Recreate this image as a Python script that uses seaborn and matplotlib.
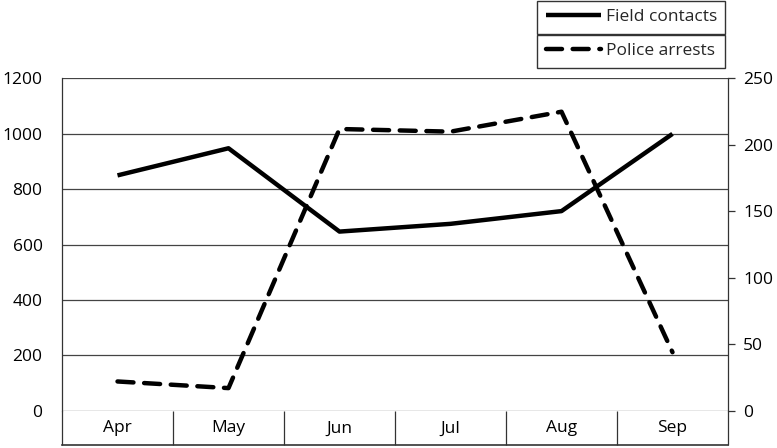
import matplotlib
matplotlib.use("Agg")
import matplotlib.pyplot as plt
import seaborn as sns
import pandas as pd

months = ["Apr", "May", "Jun", "Jul", "Aug", "Sep"]
field_contacts = [850, 948, 647, 675, 721, 1000]
police_arrests = [22, 17, 212, 210, 225, 44]

sns.set_theme(style="white")
plt.rcParams["font.family"] = ["Open Sans", "DejaVu Sans"]
plt.rcParams["font.size"] = 12.5

df = pd.DataFrame({"month": months, "contacts": field_contacts, "arrests": police_arrests})

fig = plt.figure(figsize=(7.77, 4.48), dpi=100)
ax = fig.add_axes([62 / 777, 37.3 / 448, 666 / 777, 332.2 / 448])
ax2 = ax.twinx()

sns.lineplot(data=df, x="month", y="contacts", ax=ax, color="black", lw=3.2,
             solid_capstyle="butt", sort=False, label="Field contacts", legend=False)
sns.lineplot(data=df, x="month", y="arrests", ax=ax2, color="black", lw=3.2,
             dashes=False, sort=False, label="Police arrests", legend=False)
ax2.lines[0].set_dashes((3.6, 2.4))
ax2.lines[0].set_dash_capstyle("round")

ax.set_xlim(-0.5, 5.5)
ax.set_ylim(0, 1200)
ax.set_yticks(range(0, 1201, 200))
ax2.set_ylim(0, 250)
ax2.set_yticks(range(0, 251, 50))

ax.set_xlabel("")
ax.set_ylabel("")
ax2.set_ylabel("")

ax.grid(axis="y", color="#444444", lw=0.9)
ax.grid(axis="x", visible=False)

for s in ["top", "right"]:
    ax.spines[s].set_visible(False)
ax.spines["left"].set_color("#333333")
ax.spines["left"].set_linewidth(0.9)
ax.spines["bottom"].set_position(("outward", 24.5))
ax.spines["bottom"].set_color("#333333")
ax.spines["bottom"].set_linewidth(1.2)

for s in ["top", "left", "bottom"]:
    ax2.spines[s].set_visible(False)
ax2.spines["right"].set_color("#333333")
ax2.spines["right"].set_linewidth(0.9)

# category table below the plot
ax.set_xticks([i - 0.5 for i in range(len(months) + 1)], minor=True)
ax.tick_params(axis="x", which="minor", direction="in", length=24.5, width=0.9, color="#333333", bottom=True)
ax.tick_params(axis="x", which="major", length=0, pad=-17.5, labelsize=12.5, colors="black")
ax.tick_params(axis="y", length=0, pad=14, labelsize=12.5, colors="black")
ax2.tick_params(axis="y", direction="out", length=5, width=0.9, color="#333333", pad=6,
                labelsize=12.5, colors="black", right=True)

# legend as a two-row boxed table: one framed legend per row
handles = [ax.lines[0], ax2.lines[0]]
labels = ["Field contacts", "Police arrests"]
row_tops = [1 - 0.5 / 448, 1 - 34.5 / 448]
for h, lab, top in zip(handles, labels, row_tops):
    lg = fig.legend([h], [lab], loc="upper left", mode="expand",
                    bbox_to_anchor=(537 / 777, top, 188 / 777, 0), frameon=True, fancybox=False,
                    edgecolor="#333333", facecolor="white", framealpha=1, fontsize=12.5,
                    handlelength=3.2, handletextpad=0.25, borderpad=0.5, borderaxespad=0)
    lg.get_frame().set_linewidth(1.0)

fig.savefig("out.png", dpi=100)
